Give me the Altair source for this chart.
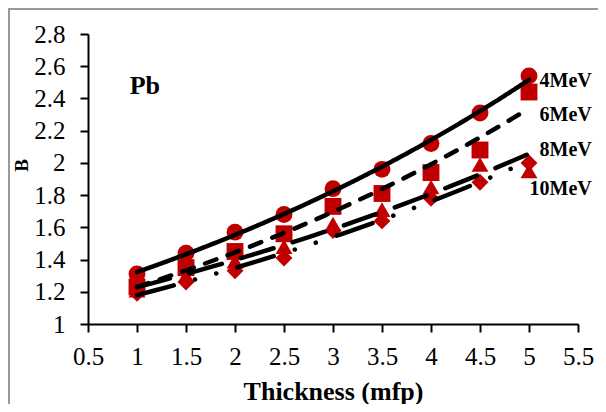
import altair as alt
import pandas as pd

# ---- data ----
thickness = [1, 1.5, 2, 2.5, 3, 3.5, 4, 4.5, 5]
b_4mev = [1.31, 1.44, 1.57, 1.68, 1.84, 1.96, 2.12, 2.31, 2.54]
b_6mev = [1.23, 1.35, 1.45, 1.56, 1.73, 1.81, 1.94, 2.08, 2.44]
b_8mev = [1.21, 1.30, 1.39, 1.48, 1.62, 1.71, 1.85, 1.99, 1.95]
b_10mev = [1.19, 1.26, 1.33, 1.41, 1.58, 1.64, 1.78, 1.88, 2.00]
series_names = ["4MeV", "6MeV", "8MeV", "10MeV"]
label_x = [5.64, 5.64, 5.64, 5.64]
label_y = [2.51, 2.295, 2.077, 1.84]
x_ticks = [0.5, 1, 1.5, 2, 2.5, 3, 3.5, 4, 4.5, 5, 5.5]
y_ticks = [1, 1.2, 1.4, 1.6, 1.8, 2, 2.2, 2.4, 2.6, 2.8]
panel_title = "Pb"
panel_title_x = [1.08]
panel_title_y = [2.48]

rows = []
for name, vals in zip(series_names, [b_4mev, b_6mev, b_8mev, b_10mev]):
    for t, v in zip(thickness, vals):
        rows.append({"series": name, "x": t, "B": v})
df = pd.DataFrame(rows)
labels_df = pd.DataFrame({"series": series_names, "x": label_x, "y": label_y})
title_df = pd.DataFrame({"t": [panel_title], "x": panel_title_x, "y": panel_title_y})

FONT = "Liberation Serif"
RED = "#C00000"

xscale = alt.Scale(domain=[0.5, 5.5], nice=False, zero=False)
yscale = alt.Scale(domain=[1, 2.8], nice=False, zero=False)

xaxis = alt.Axis(values=x_ticks, format=".1~f", title="Thickness (mfp)", grid=False,
                 titleY=75, titleBaseline="alphabetic", labelPadding=12,
                 labelFlush=False, labelOverlap=False)
yaxis = alt.Axis(values=y_ticks, format=".1~f", title="B", grid=False,
                 titleAngle=-90, titleX=-67, titleY=131, titleAlign="center",
                 titleBaseline="middle", labelPadding=15, labelOverlap=False)

X = alt.X("x:Q", scale=xscale, axis=xaxis)

base = alt.Chart(df)

points = base.mark_point(filled=True, size=285, opacity=1, color=RED).encode(
    x=X,
    y=alt.Y("B:Q", scale=yscale, axis=yaxis),
    shape=alt.Shape("series:N",
                    scale=alt.Scale(domain=series_names,
                                    range=["circle", "square", "triangle-up", "diamond"]),
                    legend=None),
    order=alt.Order("order:Q"),
).transform_calculate(
    order="indexof(['4MeV','6MeV','8MeV','10MeV'], datum.series)"
)

lines = base.transform_regression(
    "x", "B", groupby=["series"], method="exp"
).mark_line(color="black", strokeWidth=4.5, strokeCap="round").encode(
    x=X,
    y=alt.Y("B:Q", scale=yscale, axis=yaxis),
    detail="series:N",
    strokeDash=alt.StrokeDash("series:N",
                              scale=alt.Scale(domain=series_names,
                                              range=[[1, 0], [12, 12], [34, 20],
                                                     [38, 22, 0.1, 22, 0.1, 22]]),
                              legend=None),
)

labels = alt.Chart(labels_df).mark_text(
    align="right", baseline="middle", font=FONT, fontSize=20, fontWeight="bold",
    color="black"
).encode(
    x=X,
    y=alt.Y("y:Q", scale=yscale, axis=yaxis),
    text="series:N",
)

ptitle = alt.Chart(title_df).mark_text(
    align="center", baseline="middle", font=FONT, fontSize=26, fontWeight="bold",
    color="black"
).encode(
    x=X,
    y=alt.Y("y:Q", scale=yscale, axis=yaxis),
    text="t:N",
)

frame = alt.Chart(title_df).mark_rect(
    fill=None, stroke="#999999", strokeWidth=2
).encode(
    x=alt.value(-79), x2=alt.value(560),
    y=alt.value(-25), y2=alt.value(420),
)

chart = alt.layer(frame, points, lines, labels, ptitle).properties(
    width=490, height=290,
    autosize=alt.AutoSizeParams(type="none"),
    padding={"left": 80, "top": 26, "right": 20, "bottom": 80},
).configure_view(
    stroke=None
).configure_axis(
    labelFont=FONT, labelFontSize=25, labelColor="black", labelOverlap=False,
    titleFont=FONT, titleColor="black", titleFontWeight="bold",
    domainColor="black", domainWidth=2, tickColor="black", tickWidth=2, tickSize=8,
).configure_axisX(
    titleFontSize=26,
).configure_axisY(
    titleFontSize=19,
)

chart.save("out.html", embed_options={"renderer": "svg", "actions": False})
